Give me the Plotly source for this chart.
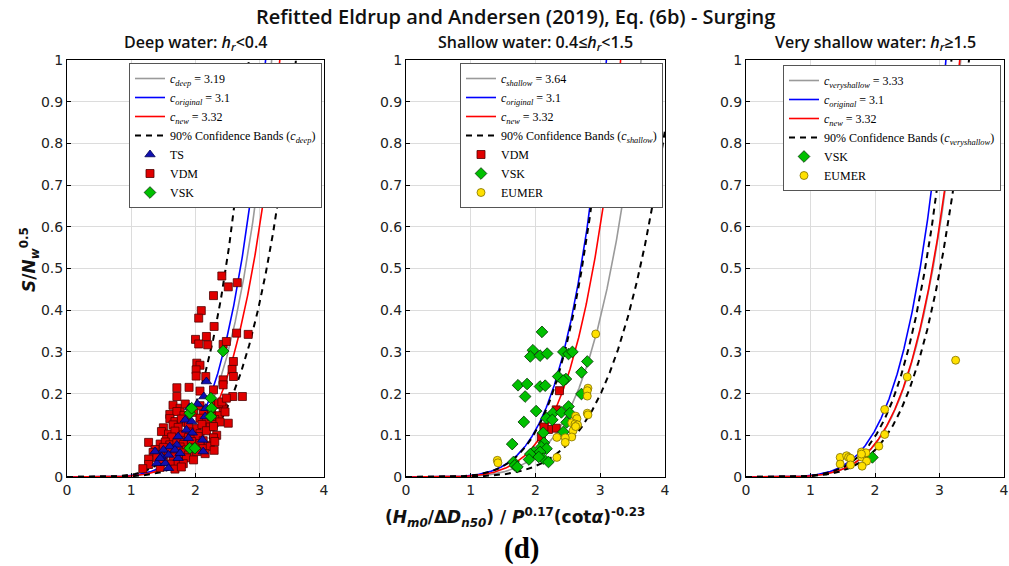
import numpy as np
import plotly.graph_objects as go

# ---------------- data ----------------
EXPONENT = 0.2          # S/Nw^0.5 = (x / c)^(1/EXPONENT)
C_ORIGINAL = 3.1
C_NEW = 3.32
C_DEEP = 3.19
BAND_DEEP = [2.84, 3.57]
C_SHALLOW = 3.64
BAND_SHALLOW = [3.12, 4.15]
C_VSHALLOW = 3.33
BAND_VSHALLOW = [3.19, 3.46]

X_TICKS = [0, 1, 2, 3, 4]
Y_TICKS = [0, 0.1, 0.2, 0.3, 0.4, 0.5, 0.6, 0.7, 0.8, 0.9, 1]

# Deep water
deep_ts_x = [2.17, 2.13, 2.03, 1.91, 2.16, 2.15, 1.84, 1.94, 1.86, 1.95, 1.73, 1.89, 1.71, 1.60,
             1.68, 1.37, 1.50, 1.47, 1.58, 1.40, 1.53, 1.73, 1.58, 2.12, 2.11, 1.76, 1.45]
deep_ts_y = [0.229, 0.193, 0.175, 0.167, 0.165, 0.145, 0.137, 0.133, 0.113, 0.106, 0.097, 0.093,
             0.077, 0.073, 0.065, 0.061, 0.065, 0.049, 0.053, 0.033, 0.033, 0.045, 0.021, 0.061,
             0.089, 0.057, 0.045]
deep_vdm_x = [2.41, 2.51, 2.65, 2.28, 2.09, 2.05, 2.29, 2.17, 2.00, 2.05, 2.19, 2.64, 2.82, 2.43,
              2.48, 2.02, 2.07, 2.01, 2.01, 2.16, 2.43, 2.59, 2.57, 2.59, 1.71, 1.71, 1.90, 2.07,
              2.28, 2.43, 2.58, 2.73, 2.51,
              1.65, 1.76, 1.84, 1.94, 2.07, 2.17, 2.33, 2.43,
              1.60, 1.71, 1.82, 1.97, 2.12, 2.25, 2.36, 2.46,
              1.60, 1.68, 1.78, 1.86, 2.07, 2.17, 2.30, 2.38,
              1.50, 1.65, 1.73, 1.89, 2.02, 2.10, 2.23,
              1.47, 1.58, 1.68, 1.81, 1.91, 2.07, 2.17, 2.33,
              1.55, 1.63, 1.76, 1.89, 1.97, 2.04, 2.12, 2.28,
              1.27, 1.45, 1.53, 1.60, 1.71, 1.81, 1.94, 2.07, 2.20,
              1.37, 1.50, 1.65, 1.76, 1.86, 1.99, 2.12, 2.23, 2.29,
              1.34, 1.45, 1.58, 1.68, 1.81, 1.89, 2.02, 2.15,
              1.27, 1.40, 1.50, 1.65, 1.76, 1.86, 1.97,
              1.27, 1.45, 1.63, 1.73, 1.81,
              1.18, 1.45, 1.68, 1.78,
              2.36, 2.41, 2.48, 2.25, 2.28, 2.30]
deep_vdm_y = [0.482, 0.456, 0.466, 0.435, 0.399, 0.381, 0.361, 0.337, 0.330, 0.319, 0.317, 0.345,
              0.342, 0.318, 0.325, 0.273, 0.268, 0.257, 0.242, 0.241, 0.233, 0.277, 0.258, 0.241,
              0.214, 0.193, 0.215, 0.206, 0.209, 0.221, 0.193, 0.193, 0.129,
              0.172, 0.165, 0.175, 0.163, 0.171, 0.160, 0.174, 0.166,
              0.150, 0.157, 0.148, 0.155, 0.151, 0.158, 0.147, 0.156,
              0.140, 0.133, 0.139, 0.131, 0.141, 0.134, 0.138, 0.132,
              0.118, 0.125, 0.119, 0.124, 0.116, 0.126, 0.120,
              0.109, 0.103, 0.110, 0.101, 0.108, 0.104, 0.111, 0.100,
              0.090, 0.096, 0.088, 0.095, 0.091, 0.097, 0.087, 0.094,
              0.083, 0.079, 0.084, 0.077, 0.082, 0.078, 0.085, 0.080, 0.076,
              0.066, 0.071, 0.067, 0.072, 0.065, 0.070, 0.068, 0.073, 0.064,
              0.059, 0.054, 0.060, 0.055, 0.058, 0.053, 0.061, 0.056,
              0.043, 0.047, 0.042, 0.048, 0.044, 0.046, 0.041,
              0.030, 0.035, 0.031, 0.036, 0.032,
              0.020, 0.023, 0.019, 0.024,
              0.176, 0.180, 0.189, 0.145, 0.121, 0.085]
deep_vsk_x = [2.43, 2.24, 2.25, 1.91, 2.24, 1.91, 1.99, 1.94]
deep_vsk_y = [0.302, 0.189, 0.165, 0.153, 0.145, 0.069, 0.069, 0.165]

# Shallow water
sh_vdm_x = [2.37, 2.32, 2.32, 2.20, 2.09, 2.13]
sh_vdm_y = [0.207, 0.161, 0.117, 0.114, 0.096, 0.120]
sh_vsk_x = [2.10, 1.96, 1.92, 2.07, 2.18, 2.43, 2.51, 2.57, 2.80, 2.35, 2.47, 2.43, 2.71, 1.73,
            1.87, 2.07, 2.15, 1.84, 2.71, 2.01, 2.51, 2.27, 2.40, 2.53, 2.17, 2.26, 1.82, 2.48,
            2.12, 2.43, 1.64, 2.13, 2.09, 2.17, 1.97, 1.92, 2.07, 2.12, 2.20, 1.90, 1.66, 1.68,
            1.72, 2.05]
sh_vsk_y = [0.348, 0.304, 0.289, 0.291, 0.296, 0.300, 0.295, 0.300, 0.277, 0.241, 0.235, 0.231,
            0.251, 0.220, 0.223, 0.217, 0.219, 0.193, 0.199, 0.158, 0.169, 0.153, 0.155, 0.153,
            0.141, 0.137, 0.132, 0.131, 0.106, 0.108, 0.079, 0.082, 0.072, 0.068, 0.060, 0.055,
            0.060, 0.044, 0.036, 0.042, 0.036, 0.028, 0.024, 0.048]
sh_eumer_x = [2.93, 2.81, 2.80, 2.80, 2.80, 2.81, 2.62, 2.64, 2.56, 2.61, 2.65, 2.58, 2.56, 2.46,
              2.46, 2.33, 2.33, 1.41, 1.42, 2.62]
sh_eumer_y = [0.343, 0.213, 0.207, 0.194, 0.153, 0.149, 0.146, 0.140, 0.130, 0.127, 0.125, 0.111,
              0.096, 0.094, 0.083, 0.095, 0.047, 0.040, 0.034, 0.121]

# Very shallow water
vs_vsk_x = [1.96]
vs_vsk_y = [0.047]
vs_eumer_x = [3.25, 2.50, 2.15, 2.15, 2.06, 1.46, 1.46, 1.56, 1.59, 1.62, 1.62, 1.79, 1.86, 1.79,
              1.87, 1.80, 1.79]
vs_eumer_y = [0.280, 0.240, 0.162, 0.102, 0.074, 0.047, 0.031, 0.051, 0.047, 0.045, 0.029, 0.060,
              0.058, 0.048, 0.038, 0.026, 0.055]

# ---------------- styling ----------------
W, H = 1009, 566
PX_X = [(67, 324), (406, 665), (746, 1004)]
PX_Y = (60, 477)
SANS = "DejaVu Sans"
TITLE_FONT = "Open Sans"
SERIF = "Liberation Serif"

COL_GRAY = "#9a9a9a"
COL_BLUE = "#0000ff"
COL_RED = "#ff0000"

MK = {
    "TS": dict(symbol="triangle-up", color="#1010b0", size=9, line=dict(color="#000050", width=0.8)),
    "VDM": dict(symbol="square", color="#e00000", size=8, line=dict(color="#500000", width=0.8)),
    "VSK": dict(symbol="diamond", color="#00c000", size=9, line=dict(color="#003000", width=0.8)),
    "EUMER": dict(symbol="circle", color="#ffe000", size=8, line=dict(color="#807000", width=0.8)),
}
LEG_RANK = {"TS": 10, "VDM": 20, "VSK": 30, "EUMER": 40}

x_curve = np.linspace(0, 4, 801)


def model(c):
    return (x_curve / c) ** (1.0 / EXPONENT)


fig = go.Figure()

panels = [
    dict(c=C_DEEP, band=BAND_DEEP, sub="deep",
         pts=[("VDM", deep_vdm_x, deep_vdm_y), ("TS", deep_ts_x, deep_ts_y), ("VSK", deep_vsk_x, deep_vsk_y)]),
    dict(c=C_SHALLOW, band=BAND_SHALLOW, sub="shallow",
         pts=[("VDM", sh_vdm_x, sh_vdm_y), ("VSK", sh_vsk_x, sh_vsk_y), ("EUMER", sh_eumer_x, sh_eumer_y)]),
    dict(c=C_VSHALLOW, band=BAND_VSHALLOW, sub="veryshallow",
         pts=[("VSK", vs_vsk_x, vs_vsk_y), ("EUMER", vs_eumer_x, vs_eumer_y)]),
]

for i, p in enumerate(panels):
    xa = "x" if i == 0 else f"x{i+1}"
    ya = "y" if i == 0 else f"y{i+1}"
    lg = "legend" if i == 0 else f"legend{i+1}"
    common = dict(xaxis=xa, yaxis=ya, legend=lg, mode="lines")
    fig.add_trace(go.Scatter(x=x_curve, y=model(p["c"]), line=dict(color=COL_GRAY, width=1.6),
                             name=f"<i>c<sub>{p['sub']}</sub></i> = {p['c']:g}", legendrank=1, **common))
    fig.add_trace(go.Scatter(x=x_curve, y=model(C_ORIGINAL), line=dict(color=COL_BLUE, width=1.6),
                             name=f"<i>c<sub>original</sub></i> = {C_ORIGINAL:g}", legendrank=2, **common))
    fig.add_trace(go.Scatter(x=x_curve, y=model(C_NEW), line=dict(color=COL_RED, width=1.6),
                             name=f"<i>c<sub>new</sub></i> = {C_NEW:g}", legendrank=3, **common))
    for k, cb in enumerate(p["band"]):
        fig.add_trace(go.Scatter(x=x_curve, y=model(cb), line=dict(color="black", width=2, dash="6px,5px"),
                                 name=f"90% Confidence Bands (<i>c<sub>{p['sub']}</sub></i>)",
                                 showlegend=(k == 0), legendrank=4, **common))
    for name, xs, ys in p["pts"]:
        fig.add_trace(go.Scatter(x=xs, y=ys, mode="markers", marker=MK[name], name=name,
                                 xaxis=xa, yaxis=ya, legend=lg, legendrank=LEG_RANK[name]))

axis_common = dict(showgrid=True, gridcolor="#dcdcdc", gridwidth=1, zeroline=False,
                   showline=True, linecolor="black", linewidth=1, mirror=True,
                   ticks="inside", ticklen=4, tickcolor="black", automargin=False,
                   tickfont=dict(family=SANS, size=14, color="#222222"))

layout = dict(
    width=W, height=H, margin=dict(l=0, r=0, t=0, b=0, autoexpand=False),
    paper_bgcolor="white", plot_bgcolor="white",
    title=dict(text="Refitted Eldrup and Andersen (2019), Eq. (6b) - Surging",
               x=0.511, xanchor="center", y=1 - 17 / H, yanchor="middle",
               font=dict(family=TITLE_FONT, size=20, color="#111111", weight=600)),
)

ann = []
sub_titles = ["Deep water: <i>h<sub>r</sub></i>&lt;0.4",
              "Shallow water: 0.4≤<i>h<sub>r</sub></i>&lt;1.5",
              "Very shallow water: <i>h<sub>r</sub></i>≥1.5"]
for i in range(3):
    sx = "" if i == 0 else str(i + 1)
    x0, x1 = PX_X[i]
    layout[f"xaxis{sx}"] = dict(domain=[x0 / W, x1 / W], range=[0, 4], tickvals=X_TICKS,
                                anchor=f"y{sx}", **axis_common)
    layout[f"yaxis{sx}"] = dict(domain=[1 - PX_Y[1] / H, 1 - PX_Y[0] / H], range=[0, 1],
                                tickvals=Y_TICKS, anchor=f"x{sx}", **axis_common)
    ann.append(dict(text=sub_titles[i], x=(x0 + x1) / 2 / W, y=1 - 43 / H, xref="paper", yref="paper",
                    xanchor="center", yanchor="middle", showarrow=False,
                    font=dict(family=TITLE_FONT, size=16, color="#111111", weight=600)))

legend_pos = [(129, 63), (460, 63), (783, 65)]
for i, (lx, ly) in enumerate(legend_pos):
    key = "legend" if i == 0 else f"legend{i+1}"
    layout[key] = dict(x=lx / W, y=1 - ly / H, xanchor="left", yanchor="top",
                       bgcolor="white", bordercolor="#555555", borderwidth=1,
                       font=dict(family=SERIF, size=12, color="black"),
                       tracegroupgap=0)

ann.append(dict(text="<b><i>S</i>/<i>N<sub>w</sub></i><sup>0.5</sup></b>", x=30 / W, y=1 - 260 / H,
                xref="paper", yref="paper", textangle=-90, showarrow=False,
                xanchor="center", yanchor="middle",
                font=dict(family=SANS, size=17, color="#111111")))
ann.append(dict(text="<b>(<i>H<sub>m0</sub></i>/Δ<i>D<sub>n50</sub></i>) / <i>P</i><sup>0.17</sup>(cot<i>α</i>)<sup>-0.23</sup></b>",
                x=515 / W, y=1 - 517 / H, xref="paper", yref="paper", showarrow=False,
                xanchor="center", yanchor="middle",
                font=dict(family=SANS, size=17, color="#111111")))
ann.append(dict(text="<b>(d)</b>", x=521 / W, y=1 - 548 / H, xref="paper", yref="paper",
                showarrow=False, xanchor="center", yanchor="middle",
                font=dict(family=SERIF, size=29, color="black")))
layout["annotations"] = ann

fig.update_layout(**layout)
fig.write_html("out.html")
